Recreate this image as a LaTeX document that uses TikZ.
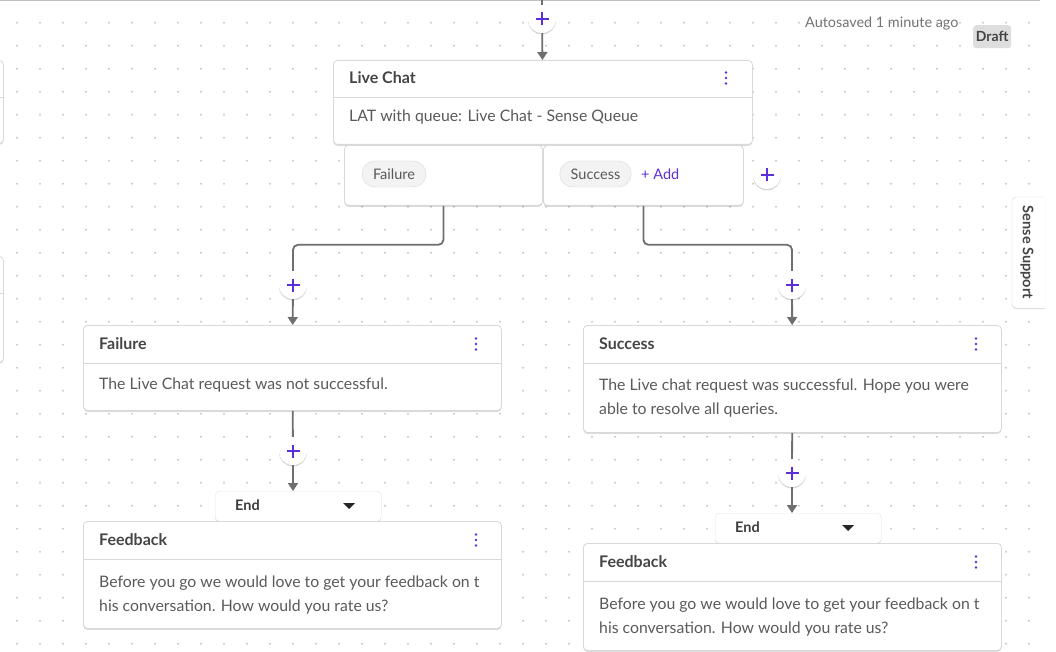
\documentclass[tikz,border=0pt]{standalone}
\usepackage{fontspec}
\setmainfont{Lato}
\usetikzlibrary{arrows.meta,shadows}
\definecolor{accent}{HTML}{5B2FD9}
\definecolor{dotc}{HTML}{C9C9C9}
\definecolor{cardborder}{HTML}{D9D9D9}
\definecolor{conncol}{HTML}{6F6F6F}
\definecolor{titlecol}{HTML}{454545}
\definecolor{bodycol}{HTML}{5A5A5A}
\definecolor{pillfill}{HTML}{F3F3F3}
\tikzset{
  card/.style={draw=cardborder, line width=0.8pt, fill=white, rounded corners=4pt, anchor=north west, inner sep=0pt,
    drop shadow={shadow xshift=0pt, shadow yshift=-1.5pt, opacity=0.14, fill=black}},
  plusbtn/.style={circle, fill=white, minimum size=28pt, inner sep=0pt,
    drop shadow={shadow xshift=0pt, shadow yshift=-1.5pt, opacity=0.16, fill=black},
    path picture={\draw[accent, line width=1.7pt] (path picture bounding box.center) ++(-6.5pt,0) -- ++(13pt,0)
      (path picture bounding box.center) ++(0,-6.5pt) -- ++(0,13pt);}},
  conn/.style={draw=conncol, line width=1.8pt},
  arr/.style={conn, -{Triangle[width=10pt,length=8pt]}},
  title/.style={anchor=west, inner sep=0pt, text=titlecol, font=\bfseries\fontsize{16}{18}\selectfont},
  body/.style={anchor=west, inner sep=0pt, text=bodycol, align=left, font=\fontsize{15.8}{24}\selectfont},
  pill/.style={draw=cardborder, fill=pillfill, rounded corners=13pt, minimum height=26pt, inner xsep=11pt, text=titlecol!90, font=\fontsize{14.5}{16}\selectfont},
  endbox/.style={draw=cardborder!70, fill=white, rounded corners=4pt, anchor=north west, inner sep=0pt,
    drop shadow={shadow xshift=0pt, shadow yshift=-1pt, opacity=0.12, fill=black}},
  endtxt/.style={anchor=west, inner sep=0pt, text=titlecol!90!black, font=\bfseries\fontsize{14.5}{16}\selectfont},
  kebab/.pic={\fill[accent] (0,-5.5) circle (1.4) (0,0) circle (1.4) (0,5.5) circle (1.4);},
  caret/.pic={\fill[black!85] (-6,-3) -- (6,-3) -- (0,3) -- cycle;},
  sep/.style={draw=cardborder, line width=0.8pt}
}
\begin{document}
\begin{tikzpicture}[x=1pt,y=-1pt]
\useasboundingbox (0,0) rectangle (1056,652);
\fill[white] (0,0) rectangle (1056,652);
% dotted grid
\foreach \xx in {17,40,...,1040} \foreach \yy in {22.7,45.7,...,652} \fill[dotc] (\xx,\yy) circle (1.1);
% right side strip and top edge
\fill[white] (1041,0) rectangle (1056,652);
\draw[draw=black!25, line width=1pt] (0,0.5) -- (1040,0.5);

% partial cards on left edge
\node[card, minimum width=23pt, minimum height=83pt] (lp1) at (-20,60) {};
\draw[sep] (-20,97) -- (3,97);
\node[card, minimum width=23pt, minimum height=106pt] (lp2) at (-20,256) {};
\draw[sep] (-20,293) -- (3,293);

% autosave / draft
\node[anchor=west, inner sep=0pt, text=black!55, font=\fontsize{14.4}{16}\selectfont] (auto) at (805,24) {Autosaved 1 minute ago};
\node[fill=black!13, rounded corners=3pt, anchor=north west, minimum width=38pt, minimum height=23pt, inner sep=0pt, text=titlecol, font=\bfseries\fontsize{14}{16}\selectfont] (draft) at (973,25) {Draft};

% sense support tab
\draw[draw=cardborder, fill=white, rounded corners=4pt, drop shadow={shadow xshift=0pt, shadow yshift=-1pt, opacity=0.12, fill=black}] (1045,197) -- (1012,197) -- (1012,308) -- (1045,308);
\node[rotate=-90, inner sep=0pt, text=titlecol, font=\bfseries\fontsize{14.5}{16}\selectfont] (tab) at (1027,252.5) {Sense Support};

% ---- Live Chat card
\node[plusbtn] (p0) at (542,19) {};
\coordinate (top) at (542,0);
\draw[conn] (top) -- (p0);

\node[card, minimum width=419pt, minimum height=84pt] (lc) at (333,60) {};
\draw[sep] (333,97) -- (752,97);
\node[title] (lct) at (349,78) {Live Chat};
\pic at (726,78) {kebab};
\node[body] (lcb) at (349,117) {LAT with queue: Live Chat - Sense Queue};
\draw[arr] (p0) -- (lc);

% branch boxes
\node[card, minimum width=198pt, minimum height=60pt] (fbr) at (344,145) {};
\node[card, minimum width=200pt, minimum height=60pt] (sbr) at (543,145) {};
\node[pill] (fpill) at (394,174) {Failure};
\node[pill] (spill) at (595.5,174) {Success};
\node[anchor=west, inner sep=0pt, text=accent, font=\fontsize{14.5}{16}\selectfont] (add) at (641,174) {+ Add};
\node[plusbtn] (padd) at (767,175) {};

% ---- Failure branch
\node[plusbtn] (pf) at (293,285) {};
\node[card, minimum width=418pt, minimum height=85pt] (fail) at (83,325) {};
\draw[sep] (83,363) -- (501,363);
\node[title] (failt) at (99,344) {Failure};
\pic at (476,344) {kebab};
\node[body] (failb) at (99,385.5) {The Live Chat request was not successful.};
\draw[conn, rounded corners=5pt] (fbr.south) -- ++(0,39) -| (pf);
\draw[arr] (pf) -- (fail);

\node[plusbtn] (pf2) at (293,451) {};
\draw[conn] (fail) -- (pf2);
\node[endbox, minimum width=166pt, minimum height=30pt] (endl) at (215,491) {};
\node[endtxt] (endlt) at (235,505.5) {End};
\pic at (349,506) {caret};
\draw[arr] (pf2) -- (pf2 |- endl.north);

\node[card, minimum width=418pt, minimum height=107pt] (fbl) at (83,521) {};
\draw[sep] (83,559) -- (501,559);
\node[title] (fblt) at (99,540) {Feedback};
\pic at (476,540) {kebab};
\node[body, anchor=north west] (fblb) at (99,576) {Before you go we would love to get your feedback on t\\his conversation. How would you rate us?};

% ---- Success branch
\node[plusbtn] (ps) at (792,285) {};
\node[card, minimum width=418pt, minimum height=107pt] (succ) at (583,325) {};
\draw[sep] (583,363) -- (1001,363);
\node[title] (succt) at (599,344) {Success};
\pic at (976,344) {kebab};
\node[body, anchor=north west] (succb) at (599,379) {The Live chat request was successful. Hope you were\\able to resolve all queries.};
\draw[conn, rounded corners=5pt] (sbr.south) -- ++(0,39) -| (ps);
\draw[arr] (ps) -- (succ);

\node[plusbtn] (ps2) at (792,473) {};
\draw[conn] (succ) -- (ps2);
\node[endbox, minimum width=166pt, minimum height=30pt] (endr) at (715,513) {};
\node[endtxt] (endrt) at (735,527.5) {End};
\pic at (848,528) {caret};
\draw[arr] (ps2) -- (ps2 |- endr.north);

\node[card, minimum width=418pt, minimum height=107pt] (fbr2) at (583,543) {};
\draw[sep] (583,581) -- (1001,581);
\node[title] (fbrt) at (599,562) {Feedback};
\pic at (976,562) {kebab};
\node[body, anchor=north west] (fbrb) at (599,598) {Before you go we would love to get your feedback on t\\his conversation. How would you rate us?};
\end{tikzpicture}
\end{document}
